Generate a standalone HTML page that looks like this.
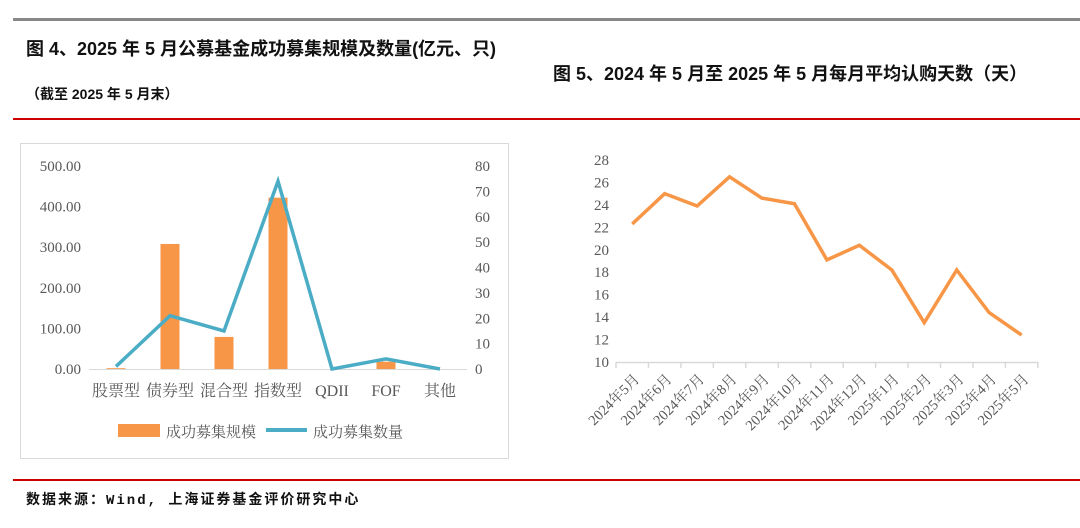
<!DOCTYPE html>
<html><head><meta charset="utf-8">
<style>
body{margin:0;width:1080px;height:528px;background:#fff;overflow:hidden;position:relative;font-family:"Liberation Sans","Noto Sans CJK SC",sans-serif;}
.abs{position:absolute;}
</style></head>
<body>
<div class="abs" style="left:13px;top:18px;width:1067px;height:3px;background:#888;"></div>
<div class="abs" style="left:26px;top:35px;font-size:18px;font-weight:bold;color:#111;white-space:nowrap;">图 4、2025 年 5 月公募基金成功募集规模及数量(亿元、只)</div>
<div class="abs" style="left:553px;top:60px;font-size:18px;font-weight:bold;color:#111;white-space:nowrap;">图 5、2024 年 5 月至 2025 年 5 月每月平均认购天数（天）</div>
<div class="abs" style="left:26px;top:84px;font-size:14px;font-weight:bold;color:#111;white-space:nowrap;">（截至 2025 年 5 月末）</div>
<div class="abs" style="left:13px;top:118px;width:1067px;height:2px;background:#c00;"></div>
<div class="abs" style="left:13px;top:479px;width:1067px;height:2px;background:#c00;"></div>
<div class="abs" style="left:26px;top:489px;font-size:14px;font-weight:bold;color:#111;white-space:nowrap;letter-spacing:2px;font-family:'Liberation Mono','Noto Sans CJK SC',monospace;">数据来源：Wind,  上海证券基金评价研究中心</div>

<svg class="abs" style="left:0;top:0" width="1080" height="528">
<rect x="20.5" y="143.5" width="488" height="315" fill="none" stroke="#d9d9d9"/>
<g id="c4"></g>
<g id="c5"></g>
</svg>

<script>
const cats4=["股票型","债券型","混合型","指数型","QDII","FOF","其他"];
const scale4=[2,308,79,422,0,18,0];
const count4=[1,21,15,74,0,4,0];
const leftTicks=["0.00","100.00","200.00","300.00","400.00","500.00"];
const rightTicks=[0,10,20,30,40,50,60,70,80];

const months5=["2024年5月","2024年6月","2024年7月","2024年8月","2024年9月","2024年10月","2024年11月","2024年12月","2025年1月","2025年2月","2025年3月","2025年4月","2025年5月"];
const days5=[22.3,25.0,23.9,26.5,24.6,24.1,19.1,20.4,18.2,13.5,18.2,14.4,12.4];
const ticks5=[10,12,14,16,18,20,22,24,26,28];

const NS="http://www.w3.org/2000/svg";
function mk(tag,attrs,parent,text){const e=document.createElementNS(NS,tag);for(const k in attrs)e.setAttribute(k,attrs[k]);if(text!==undefined)e.textContent=text;parent.appendChild(e);return e;}

const g4=document.getElementById('c4');
const yL=v=>369-v*(203/500);
const yR=v=>369-v*(203/80);
const x4=i=>116+i*54;
const serif='"Liberation Serif","Noto Serif CJK SC",serif';
leftTicks.forEach(t=>{const e=mk('text',{x:81,y:yL(parseFloat(t))+5,'text-anchor':'end','font-size':15,fill:'#595959','font-family':serif},g4,t);

});
rightTicks.forEach(t=>{const e=mk('text',{x:475,y:yR(t)+5,'font-size':15,fill:'#595959','font-family':serif},g4,String(t));

});
let ax=mk('line',{x1:89,x2:467,y1:369.5,y2:369.5,stroke:'#d9d9d9','stroke-width':1},g4);


scale4.forEach((v,i)=>{const r=mk('rect',{x:x4(i)-9.5,y:yL(v),width:19,height:369-yL(v),fill:'#f79646'},g4);

});
const pl=mk('polyline',{points:count4.map((v,i)=>x4(i)+','+yR(v)).join(' '),fill:'none',stroke:'#4bacc6','stroke-width':3.5,'stroke-linejoin':'miter'},g4);


cats4.forEach((c,i)=>{const e=mk('text',{x:x4(i),y:396,'text-anchor':'middle','font-size':16,fill:'#595959','font-family':serif},g4,c);

});
let lg=mk('rect',{x:118,y:424,width:42,height:13,fill:'#f79646'},g4);


let lt=mk('text',{x:166,y:437,'font-size':15,fill:'#595959','font-family':serif},g4,'成功募集规模');


let ll=mk('line',{x1:266,x2:307,y1:430,y2:430,stroke:'#4bacc6','stroke-width':4},g4);


let lt2=mk('text',{x:313,y:437,'font-size':15,fill:'#595959','font-family':serif},g4,'成功募集数量');



const g5=document.getElementById('c5');
const y5=v=>362-(v-10)*(202/18);
const step=32.45;
const x5=i=>616+step*(i+0.5);
ticks5.forEach(t=>{const e=mk('text',{x:609,y:y5(t)+5,'text-anchor':'end','font-size':15,fill:'#595959','font-family':serif},g5,String(t));

});
let ax5=mk('line',{x1:616,x2:1038,y1:362.5,y2:362.5,stroke:'#d9d9d9','stroke-width':1.5},g5);


for(let i=0;i<=months5.length;i++){const t=mk('line',{x1:616+step*i,x2:616+step*i,y1:362,y2:368,stroke:'#d9d9d9','stroke-width':1.5},g5);

}
const pl5=mk('polyline',{points:days5.map((v,i)=>x5(i)+','+y5(v)).join(' '),fill:'none',stroke:'#f79646','stroke-width':3.5},g5);


months5.forEach((m,i)=>{const x=x5(i)+8,y=380;const e=mk('text',{x:x,y:y,'text-anchor':'end','font-size':14.5,fill:'#595959','font-family':serif,transform:`rotate(-45 ${x} ${y})`},g5,m);

});
</script>
</body></html>
